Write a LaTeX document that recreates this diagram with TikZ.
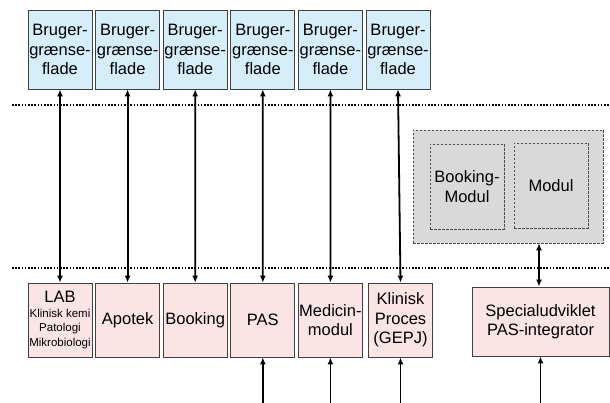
\documentclass[tikz,border=0pt]{standalone}
\usepackage{fontspec}
\setmainfont{Liberation Sans}
\usetikzlibrary{arrows.meta}
\newcommand\labsub{\fontsize{11.5}{12}\selectfont}

\begin{document}
\begin{tikzpicture}[x=1pt,y=-1pt,
  box/.style={draw=black!75,line width=.8pt,inner sep=0pt,align=center,
    font=\fontsize{16.5}{19.5}\selectfont},
  ui/.style={box,fill=uiblue,minimum width=64pt,minimum height=79pt,text width=64pt},
  sys/.style={box,fill=syspink,minimum width=64pt,minimum height=74pt},
  modbox/.style={box,draw=black!70,fill=modgray,dash pattern=on 2.5pt off 1.5pt,line width=.7pt},
  link/.style={line width=1.8pt,{Latex[length=7pt,width=6pt]}-{Latex[length=7pt,width=6pt]}},
  feed/.style={line width=1.8pt,-{Latex[length=7pt,width=6pt]}},
  layer/.style={line width=1.6pt,dash pattern=on 1.6pt off 1.6pt}]
  \definecolor{uiblue}{RGB}{214,238,250}%
  \definecolor{syspink}{RGB}{251,228,228}%
  \definecolor{modgray}{RGB}{217,217,217}%
  \useasboundingbox (0,0) rectangle (610,403);

  % brugergraenseflader
  \foreach \i in {1,...,6}{
    \node[ui] (ui\i) at ({60+67.6*(\i-1)},49.5) {Bruger-\\grænse-\\flade};
  }

  % lagskel
  \draw[layer] (12,105) -- (610,105);
  \draw[layer] (12,268) -- (610,268);

  % systemer
  \node[sys] (sys1) at (60,320) {LAB\\[-5pt]{\labsub Klinisk kemi}\\[-5pt]{\labsub Patologi}\\[-5pt]{\labsub Mikrobiologi}};
  \node[sys] (sys2) at (127.6,320) {Apotek};
  \node[sys] (sys3) at (195.2,320) {Booking};
  \node[sys] (sys4) at (262.8,320) {PAS};
  \node[sys] (sys5) at (330.4,320) {Medicin-\\modul};
  \node[sys] (sys6) at (400.5,320) {Klinisk\\Proces\\(GEPJ)};
  \node[sys,minimum width=137pt,minimum height=69pt] (sys7) at (540.5,321.5)
    {Specialudviklet\\PAS-integrator};

  % moduler
  \node[modbox,minimum width=190pt,minimum height=113pt] (grp) at (508,186.5) {};
  \node[modbox,minimum width=74pt,minimum height=85pt] (mod1) at (467,186.5) {Booking-\\Modul};
  \node[modbox,minimum width=74pt,minimum height=85pt] (mod2) at (551,185.5) {Modul};

  \foreach \i in {1,...,6}{
    \draw[link] (ui\i.south) -- (sys\i.north);
  }
  \draw[link] (sys7.north -| 539,0) -- (grp.south -| 539,0);

  \foreach \n in {sys4,sys5,sys6,sys7}{
    \coordinate (in-\n) at (\n.south |- 0,403);
    \draw[feed] (in-\n) -- (\n.south);
  }
\end{tikzpicture}
\end{document}
